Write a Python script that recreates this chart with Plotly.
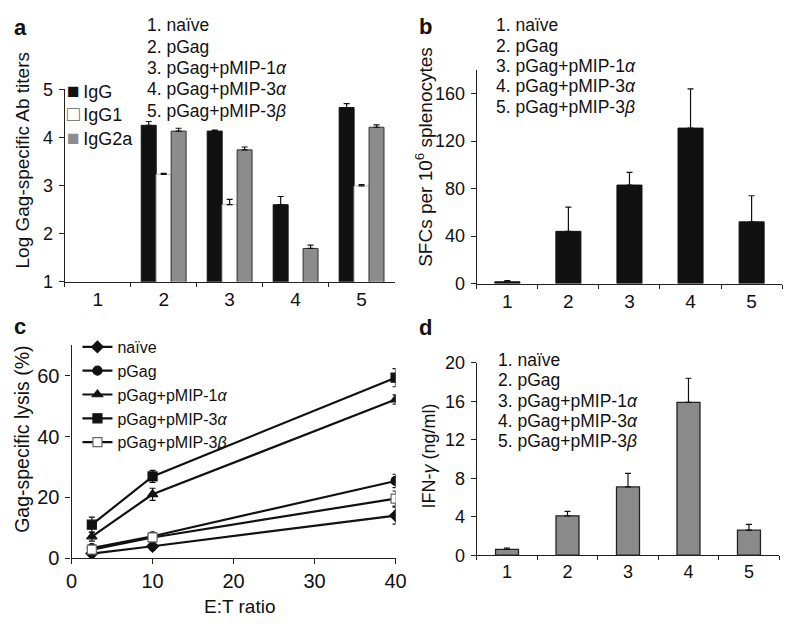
import plotly.graph_objects as go

# ---------------- data ----------------
groups = ["1", "2", "3", "4", "5"]
group_labels = ["1. naïve", "2. pGag", "3. pGag+pMIP-1<i>α</i>",
                "4. pGag+pMIP-3<i>α</i>", "5. pGag+pMIP-3<i>β</i>"]

# panel a: log Gag-specific Ab titers
ab_names = ["IgG", "IgG1", "IgG2a"]
igg = [None, 4.25, 4.13, 2.60, 4.62]
igg_err = [0, 0.08, 0.02, 0.17, 0.08]
igg1 = [None, 3.23, 2.60, None, 2.99]
igg1_err = [0, 0.02, 0.11, 0, 0.03]
igg2a = [None, 4.13, 3.74, 1.69, 4.21]
igg2a_err = [0, 0.06, 0.06, 0.07, 0.05]

# panel b: SFCs per 10^6 splenocytes
sfc = [1.5, 44, 83, 131, 52]
sfc_err = [1.0, 20.5, 10.7, 33, 22]

# panel c: Gag-specific lysis (%)
et_ratio = [2.5, 10, 40]
lysis_names = ["naïve", "pGag", "pGag+pMIP-1<i>α</i>", "pGag+pMIP-3<i>α</i>", "pGag+pMIP-3<i>β</i>"]
lysis_naive = [1.5, 3.9, 14.0]
lysis_naive_err = [0.8, 1.2, 2.8]
lysis_pgag = [3.3, 7.2, 25.4]
lysis_pgag_err = [1.0, 1.0, 2.2]
lysis_1a = [7.1, 21.0, 52.2]
lysis_1a_err = [1.5, 2.0, 1.5]
lysis_3a = [11.0, 26.9, 59.4]
lysis_3a_err = [2.5, 2.0, 3.0]
lysis_3b = [2.8, 6.8, 19.6]
lysis_3b_err = [0.8, 0.8, 2.5]

# panel d: IFN-gamma (ng/ml)
ifn = [0.6, 4.1, 7.1, 15.9, 2.6]
ifn_err = [0.15, 0.45, 1.4, 2.5, 0.6]

# ---------------- figure ----------------
W, H = 800, 631
FONT = "Liberation Sans, Arial, sans-serif"
AX = "#222"

def px(x):
    return x / W

def py(y):
    return 1 - y / H

fig = go.Figure()

def errd(arr):
    return dict(type="data", array=arr, arrayminus=[0] * len(arr), symmetric=False,
                color="#111", thickness=1.2, width=3)

ab_colors = ["#111", "white", "#8c8c8c"]
ab_edges = ["#111", "#bbb", "#333"]
for name, vals, errs, col, edge in zip(ab_names, [igg, igg1, igg2a], [igg_err, igg1_err, igg2a_err],
                                       ab_colors, ab_edges):
    fig.add_trace(go.Bar(x=groups, y=vals, name=name, marker=dict(color=col, line=dict(color=edge, width=1)),
                         error_y=errd(errs), xaxis="x", yaxis="y", showlegend=False))

# panel b bars
fig.add_trace(go.Bar(x=groups, y=sfc, width=0.41, marker=dict(color="#111", line=dict(color="#111", width=1)),
                     error_y=errd(sfc_err), xaxis="x2", yaxis="y2", showlegend=False))

# panel c lines
series = [
    (lysis_naive, lysis_naive_err, "diamond", "#111", "#111"),
    (lysis_pgag, lysis_pgag_err, "circle", "#111", "#111"),
    (lysis_1a, lysis_1a_err, "triangle-up", "#111", "#111"),
    (lysis_3a, lysis_3a_err, "square", "#111", "#111"),
    (lysis_3b, lysis_3b_err, "square", "white", "#666"),
]
for name, (vals, errs, sym, fill, edge) in zip(lysis_names, series):
    fig.add_trace(go.Scatter(
        x=et_ratio, y=vals, name=name, mode="lines+markers",
        line=dict(color="#111", width=2.2),
        marker=dict(symbol=sym, size=9, color=fill, line=dict(color=edge, width=1.2)),
        error_y=dict(type="data", array=errs, color="#111", thickness=1.2, width=3),
        xaxis="x3", yaxis="y3", legend="legend"))

# panel d bars
fig.add_trace(go.Bar(x=groups, y=ifn, width=0.38, marker=dict(color="#8a8a8a", line=dict(color="#222", width=1.3)),
                     error_y=errd(ifn_err), xaxis="x4", yaxis="y4", showlegend=False))

def tf(size):
    return dict(family=FONT, size=size, color="#111")

def cat_x(domain, anchor, size):
    return dict(domain=domain, anchor=anchor, type="category", tickson="boundaries",
                ticks="outside", ticklen=4, tickcolor=AX, showline=True, linecolor=AX, linewidth=1.3,
                showgrid=False, zeroline=False, tickfont=tf(size), fixedrange=True)

def lin_y(domain, anchor, rng, tickvals, size):
    return dict(domain=domain, anchor=anchor, range=rng, tickvals=tickvals, ticks="outside",
                ticklen=5, tickcolor=AX, showline=True, linecolor=AX, linewidth=1.3,
                showgrid=False, zeroline=False, tickfont=tf(size), ticklabelstandoff=2)

annotations = []

def text(x, y, s, size=17, bold=False, xanchor="left", yanchor="middle", angle=0):
    annotations.append(dict(x=px(x), y=py(y), xref="paper", yref="paper", text=("<b>%s</b>" % s) if bold else s,
                            showarrow=False, xanchor=xanchor, yanchor=yanchor, align="left", textangle=angle,
                            font=tf(size)))

# panel labels
text(6, 18, "a", size=22, bold=True)
text(420, 17, "b", size=22, bold=True)
text(6, 327, "c", size=22, bold=True)
text(420, 328, "d", size=22, bold=True)

# group lists, one line each
for i, lab in enumerate(group_labels):
    text(142, 16 + 22 * i, lab, size=17.5)
    text(499, 16 + 21 * i, lab, size=17.5)
    text(501, 362 + 21 * i, lab, size=17.5)

# panel a key (antibody isotypes)
key_y = [83, 107.5, 132]
key_sym = ['<span style="color:#111;font-size:21px">■</span>',
           '<span style="color:#666;font-size:21px">□</span>',
           '<span style="color:#8c8c8c;font-size:21px">■</span>']
for yy, sym, name in zip(key_y, key_sym, ab_names):
    text(60, yy, sym + "\u2009" + name, size=18)

# axis titles
text(17, 155, "Log Gag-specific Ab titers", size=19, xanchor="center", angle=-90)
text(427, 152, "SFCs per 10<sup>6</sup> splenocytes", size=19, xanchor="center", angle=-90)
text(17, 444, "Gag-specific lysis (%)", size=19.5, xanchor="center", angle=-90)
text(432, 461, "IFN-<i>γ</i> (ng/ml)", size=18, xanchor="center", angle=-90)
text(239, 617, "E:T ratio", size=19, xanchor="center")

fig.update_layout(
    width=W, height=H, margin=dict(l=0, r=0, t=0, b=0),
    paper_bgcolor="white", plot_bgcolor="white",
    font=tf(17),
    barmode="group", bargap=0.32, bargroupgap=0,
    xaxis=cat_x([px(60), px(397)], "y", 19),
    yaxis=lin_y([py(281), py(82)], "x", [1, 5], [1, 2, 3, 4, 5], 18),
    xaxis2=cat_x([px(481), px(793)], "y2", 19),
    yaxis2=lin_y([py(283), py(62)], "x2", [0, 180], [0, 40, 80, 120, 160], 18),
    xaxis3=dict(domain=[px(67), px(398)], anchor="y3", range=[0, 40], tickvals=[0, 10, 20, 30, 40],
                ticks="outside", ticklen=5, tickcolor=AX, showline=True, linecolor=AX, linewidth=1.3,
                showgrid=False, zeroline=False, tickfont=tf(20)),
    yaxis3=lin_y([py(567), py(347)], "x3", [0, 70], [0, 20, 40, 60], 20),
    xaxis4=cat_x([px(481), px(790)], "y4", 18),
    yaxis4=lin_y([py(564), py(365)], "x4", [0, 20], [0, 4, 8, 12, 16, 20], 18),
    legend=dict(x=px(73), y=py(331), xanchor="left", yanchor="top", bgcolor="rgba(0,0,0,0)",
                font=tf(16), tracegroupgap=0, itemwidth=30),
    annotations=annotations,
    showlegend=True,
)

fig.write_html(
    "out.html",
    config={"displayModeBar": False},
    post_script="document.documentElement.style.margin='0';document.body.style.margin='0';"
                "document.body.style.padding='0';document.body.style.overflow='hidden';",
)
